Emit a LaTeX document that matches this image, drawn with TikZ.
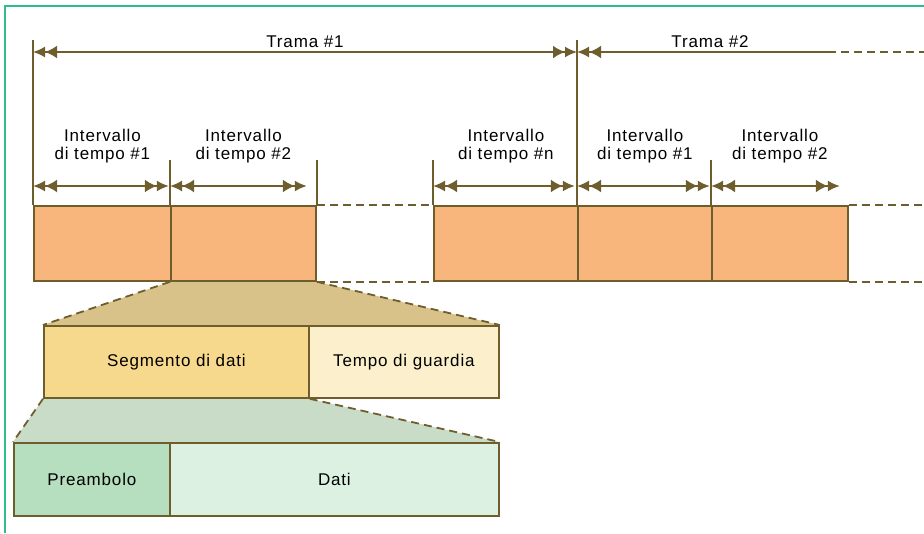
\documentclass[tikz,border=0pt]{standalone}
\usepackage{fontspec}
\setmainfont{Liberation Sans}[LetterSpace=5]
\usepackage{xcolor}
\usetikzlibrary{arrows.meta, calc, backgrounds}

\definecolor{linea}{HTML}{6E5E2E}
\definecolor{arancio}{HTML}{F9B67C}
\definecolor{sabbia}{HTML}{D9C28A}
\definecolor{giallo}{HTML}{F7D98E}
\definecolor{crema}{HTML}{FCEFCB}
\definecolor{salvia}{HTML}{C9DCC8}
\definecolor{verde}{HTML}{B5DFBF}
\definecolor{verdino}{HTML}{DDF1E2}
\definecolor{cornice}{HTML}{2DBE8C}

\begin{document}
\begin{tikzpicture}[x=1pt,y=-1pt,
        font=\fontsize{17}{18}\selectfont,
        >={Latex[length=12pt,width=13pt] Latex[length=12pt,width=11pt]},
        filo/.style={draw=linea,line width=1.8pt},
        tratto/.style={filo,dash pattern=on 8pt off 5pt},
        slot/.style={filo,fill=arancio,minimum height=75pt,inner sep=0pt,anchor=north west},
        blocco/.style={filo,minimum height=72pt,inner sep=0pt,anchor=north west},
        etich/.style={align=center,inner sep=0pt}]
        \useasboundingbox (0,0) rectangle (924,533);
        %cornice
        \draw[cornice,line width=1.5pt] (5,533)--(5,6)--(924,6);

        %intervalli di tempo
        \foreach \n/\x/\w in {s1/33/137, s2/170/145, sn/433/144, t1/577/134, t2/711/136}
            \node[slot,minimum width=\w pt] (\n) at (\x,205) {};
        \foreach \n/\c in {s1/3, s2/10, sn/4, t1/3, t2/9}
            \draw[filo,<->] ([yshift=19pt]\n.north west) -- ([yshift=19pt,xshift=-\c pt]\n.north east);
        \foreach \n/\k in {s1/1, s2/2, sn/n, t1/1, t2/2}
            \node[etich] (e\n) at ([yshift=59pt]\n.north) {Intervallo\\di tempo \#\k};
        %tacche
        \foreach \p in {s2.north west, s2.north east, sn.north west, t2.north west}
            \draw[filo] (\p) -- ++(0,-45);

        %trame
        \coordinate (tA) at (33,40);
        \coordinate (tB) at (577,40);
        \draw[filo] (s1.north west) -- (tA);
        \draw[filo] (t1.north west) -- (tB);
        \coordinate (fA) at (33,52);
        \coordinate (fB) at (577,52);
        \coordinate (fC) at (828,52);
        \coordinate (fD) at (924,52);
        \draw[filo,<->] (fA) -- node[above] (tr1) {Trama \#1} (fB);
        \draw[filo,<-] (fB) -- node[above,pos=.53] (tr2) {Trama \#2} (fC);
        \draw[tratto] (fC) -- (fD);
        %trame continuano
        \coordinate (gA) at (t2.north east -| fD);
        \coordinate (gB) at (t2.south east -| fD);
        \draw[tratto] (s2.north east) -- (sn.north west);
        \draw[tratto] (s2.south east) -- (sn.south west);
        \draw[tratto] (t2.north east) -- (gA);
        \draw[tratto] (t2.south east) -- (gB);

        %segmento
        \node[blocco,fill=giallo,minimum width=265pt] (seg) at (43,325) {Segmento di dati};
        \node[blocco,fill=crema,minimum width=190pt] (guard) at (308,325) {Tempo di guardia};
        \begin{scope}[on background layer]
            \fill[sabbia] (s2.south west) -- (s2.south east) -- (guard.north east) -- (seg.north west) -- cycle;
        \end{scope}
        \draw[tratto] (s2.south west) -- (seg.north west);
        \draw[tratto] (s2.south east) -- (guard.north east);

        %pacchetto
        \node[blocco,fill=verde,minimum width=156pt,minimum height=73pt] (pre) at (13,442) {Preambolo};
        \node[blocco,fill=verdino,minimum width=329pt,minimum height=73pt] (dati) at (169,442) {Dati};
        \begin{scope}[on background layer]
            \fill[salvia] (seg.south west) -- (seg.south east) -- (dati.north east) -- (pre.north west) -- cycle;
        \end{scope}
        \draw[tratto] (seg.south west) -- (pre.north west);
        \draw[tratto] (seg.south east) -- (dati.north east);
    \end{tikzpicture}
\end{document}
